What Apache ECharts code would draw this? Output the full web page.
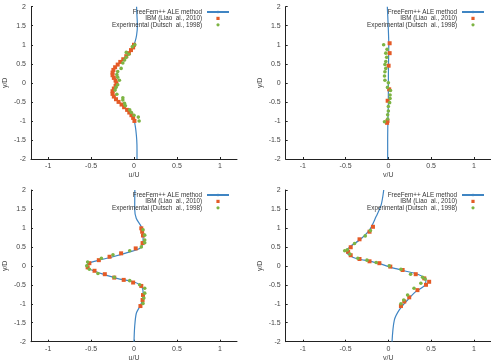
<!DOCTYPE html>
<html>
<head>
<meta charset="utf-8">
<script src="https://cdn.jsdelivr.net/npm/echarts@6/dist/echarts.min.js"></script>
<style>html,body{margin:0;padding:0;background:#fff}#c{width:491px;height:363px}</style>
</head>
<body>
<div id="c"></div>
<script>
var seriesNames = ['FreeFem++ ALE method', 'IBM (Liao  al., 2010)', 'Experimental (Dutsch  al., 1998)'];
var xNames = ['u/U', 'v/U', 'u/U', 'v/U'];
var yName = 'y/D';
var xTicks = [-1, -0.5, 0, 0.5, 1];

// Panel 1 (top left)
var line1 = [[0.035,-2],[0.035,-1.75],[0.032,-1.5],[0.022,-1.25],[0.012,-1.1],[0.004,-1],[-0.015,-0.9],[-0.045,-0.8],[-0.085,-0.7],[-0.13,-0.6],[-0.175,-0.5],[-0.215,-0.4],[-0.245,-0.3],[-0.25,-0.25],[-0.245,-0.2],[-0.215,-0.1],[-0.2,0],[-0.215,0.1],[-0.245,0.2],[-0.25,0.25],[-0.245,0.3],[-0.22,0.4],[-0.18,0.5],[-0.135,0.6],[-0.09,0.7],[-0.05,0.8],[-0.02,0.9],[0.0,1],[0.015,1.1],[0.03,1.25],[0.04,1.5],[0.035,1.75],[0.03,2]];
var ibm1 = [[0.0,1.0],[-0.01,0.93],[-0.035,0.86],[-0.06,0.78],[-0.09,0.7],[-0.125,0.62],[-0.16,0.55],[-0.19,0.48],[-0.22,0.41],[-0.24,0.34],[-0.25,0.27],[-0.25,0.2],[-0.235,0.13],[-0.215,0.06],[-0.205,-0.01],[-0.215,-0.08],[-0.235,-0.15],[-0.25,-0.22],[-0.25,-0.29],[-0.235,-0.36],[-0.21,-0.43],[-0.18,-0.5],[-0.145,-0.57],[-0.115,-0.64],[-0.08,-0.71],[-0.055,-0.78],[-0.03,-0.85],[-0.01,-0.92],[0.005,-1.0]];
var exp1 = [[0.01,1.0],[-0.02,0.95],[-0.09,0.8],[-0.06,0.75],[-0.09,0.67],[-0.11,0.6],[-0.13,0.52],[-0.15,0.38],[-0.19,0.3],[-0.2,0.22],[-0.19,0.15],[-0.17,0.07],[-0.19,-0.05],[-0.21,-0.12],[-0.22,-0.19],[-0.2,-0.3],[-0.13,-0.39],[-0.13,-0.45],[-0.11,-0.54],[-0.1,-0.6],[-0.05,-0.71],[-0.03,-0.78],[0.0,-0.85],[0.05,-0.9],[0.06,-1.0]];

// Panel 2 (top right)
var line2 = [[-0.008,-2],[-0.008,-1.5],[-0.005,-1],[0.0,-0.5],[0.0,0],[0.002,0.5],[0.005,1],[-0.002,1.5],[-0.012,2]];
var ibm2 = [[0.015,1.04],[0.015,0.78],[0.003,0.45],[0.01,-0.17],[-0.008,-0.47],[-0.01,-1.0],[-0.015,-1.05]];
var exp2 = [[-0.055,1.0],[-0.015,0.88],[-0.03,0.78],[-0.02,0.67],[-0.03,0.56],[-0.04,0.48],[-0.03,0.38],[-0.04,0.29],[-0.045,0.18],[-0.04,0.07],[0.0,0.0],[-0.01,-0.12],[0.025,-0.2],[0.02,-0.32],[0.02,-0.41],[0.015,-0.52],[0.0,-0.62],[0.0,-0.74],[-0.008,-0.84],[-0.008,-0.95],[-0.045,-1.02]];

// Panel 3 (bottom left)
var line3 = [[0,-2],[0.008,-1.6],[0.027,-1.25],[0.066,-1.08],[0.1,-0.9],[0.106,-0.75],[0.104,-0.64],[0.066,-0.5],[-0.01,-0.42],[-0.2,-0.33],[-0.36,-0.22],[-0.47,-0.13],[-0.52,-0.08],[-0.55,0.0],[-0.53,0.07],[-0.44,0.13],[-0.245,0.24],[-0.05,0.37],[0.066,0.46],[0.104,0.59],[0.106,0.75],[0.085,1.03],[0.027,1.25],[0.008,1.5],[0.01,2]];
var ibm3 = [[0.085,0.99],[0.095,0.9],[0.105,0.8],[0.1,0.6],[0.02,0.46],[-0.15,0.33],[-0.285,0.24],[-0.41,0.15],[-0.52,0.07],[-0.54,-0.04],[-0.46,-0.13],[-0.34,-0.22],[-0.23,-0.31],[-0.12,-0.37],[-0.01,-0.44],[0.085,-0.53],[0.105,-0.77],[0.1,-0.9],[0.075,-1.06]];
var exp3 = [[0.105,0.95],[0.125,0.81],[0.125,0.68],[0.125,0.61],[0.085,0.5],[-0.05,0.4],[-0.245,0.29],[-0.38,0.2],[-0.54,0.1],[-0.55,0.0],[-0.52,-0.09],[-0.42,-0.2],[-0.23,-0.3],[-0.05,-0.39],[0.066,-0.5],[0.125,-0.59],[0.125,-0.72],[0.115,-0.85],[0.105,-0.99]];

// Panel 4 (bottom right)
var line4 = [[0.043,-2],[0.07,-1.43],[0.128,-1.16],[0.225,-0.9],[0.32,-0.68],[0.42,-0.53],[0.44,-0.37],[0.34,-0.22],[0.186,-0.13],[0.031,-0.04],[-0.124,0.07],[-0.28,0.15],[-0.41,0.22],[-0.49,0.37],[-0.45,0.5],[-0.337,0.68],[-0.22,0.95],[-0.143,1.3],[-0.085,1.6],[-0.054,2]];
var ibm4 = [[-0.18,1.03],[-0.22,0.9],[-0.337,0.7],[-0.44,0.49],[-0.47,0.37],[-0.44,0.28],[-0.337,0.18],[-0.22,0.12],[-0.105,0.07],[0.023,-0.02],[0.167,-0.11],[0.32,-0.22],[0.42,-0.33],[0.477,-0.42],[0.44,-0.5],[0.34,-0.64],[0.244,-0.83],[0.186,-0.94],[0.147,-1.06]];
var exp4 = [[-0.21,0.93],[-0.27,0.79],[-0.395,0.59],[-0.48,0.42],[-0.51,0.4],[-0.45,0.31],[-0.357,0.2],[-0.25,0.15],[-0.143,0.09],[0.01,0],[0.147,-0.09],[0.26,-0.22],[0.4,-0.3],[0.43,-0.35],[0.38,-0.46],[0.3,-0.59],[0.225,-0.77],[0.18,-0.9],[0.147,-1.0]];

var lines = [line1, line2, line3, line4];
var ibms = [ibm1, ibm2, ibm3, ibm4];
var exps = [exp1, exp2, exp3, exp4];

var colBlue = '#3f85c3', colRed = '#e45a26', colGreen = '#7db443';
var font = 'Liberation Sans, Arial, sans-serif';
var grids = [
  {left: 31, top: 6.7, width: 206, height: 152.3},
  {left: 285.7, top: 6.7, width: 206, height: 152.3},
  {left: 31, top: 190, width: 206, height: 151.7},
  {left: 285.7, top: 190, width: 206, height: 151.7}
];
var legendPos = [
  {right: 261, top: 9},
  {right: 6, top: 9},
  {right: 261, top: 192},
  {right: 6, top: 192}
];
var squareIcon = 'path://M0,0L10,0L10,10L0,10Z';
var xAxes = [], yAxes = [], series = [], legends = [];
for (var i = 0; i < 4; i++) {
  xAxes.push({
    type: 'value', gridIndex: i, min: -1.2, max: 1.2,
    name: xNames[i], nameLocation: 'middle', nameGap: 13,
    nameTextStyle: {fontSize: 7, color: '#444', fontFamily: font},
    axisLine: {show: true, onZero: false, lineStyle: {color: '#222', width: 1}},
    axisTick: {show: true, inside: true, length: 2, customValues: xTicks, lineStyle: {color: '#222'}},
    axisLabel: {fontSize: 7, color: '#444', fontFamily: font, margin: 4, customValues: xTicks},
    splitLine: {show: false}
  });
  yAxes.push({
    type: 'value', gridIndex: i, min: -2, max: 2, interval: 0.5,
    name: yName, nameLocation: 'middle', nameGap: 22, nameRotate: 90,
    nameTextStyle: {fontSize: 7, color: '#444', fontFamily: font},
    axisLine: {show: true, onZero: false, lineStyle: {color: '#222', width: 1}},
    axisTick: {show: true, inside: true, length: 2, lineStyle: {color: '#222'}},
    axisLabel: {fontSize: 7, color: '#444', fontFamily: font, margin: 5},
    splitLine: {show: false}
  });
  series.push({
    name: seriesNames[0], type: 'line', xAxisIndex: i, yAxisIndex: i,
    data: lines[i], symbol: 'none', smooth: 0.3, z: 1,
    lineStyle: {color: colBlue, width: 1.2}, itemStyle: {color: colBlue}
  });
  series.push({
    name: seriesNames[1], type: 'scatter', xAxisIndex: i, yAxisIndex: i,
    data: ibms[i], symbol: 'rect', symbolSize: 4, z: 2,
    itemStyle: {color: colRed, opacity: 1}
  });
  series.push({
    name: seriesNames[2], type: 'scatter', xAxisIndex: i, yAxisIndex: i,
    data: exps[i], symbol: 'circle', symbolSize: 3.6, z: 3,
    itemStyle: {color: colGreen, opacity: 1}
  });
  legends.push({
    data: [
      {name: seriesNames[0]},
      {name: seriesNames[1], icon: squareIcon},
      {name: seriesNames[2], icon: 'circle'}
    ],
    orient: 'vertical', align: 'right', symbolKeepAspect: true,
    right: legendPos[i].right, top: legendPos[i].top,
    itemWidth: 22, itemHeight: 3.2, itemGap: 0.4, padding: 0,
    textStyle: {fontSize: 6.3, color: '#333', fontFamily: font, padding: [0, 0, 0, 0]},
    selectedMode: false
  });
}
var chart = echarts.init(document.getElementById('c'), null, {renderer: 'canvas'});
chart.setOption({
  animation: false,
  backgroundColor: '#fff',
  grid: grids, xAxis: xAxes, yAxis: yAxes, series: series, legend: legends
});
</script>
</body>
</html>
